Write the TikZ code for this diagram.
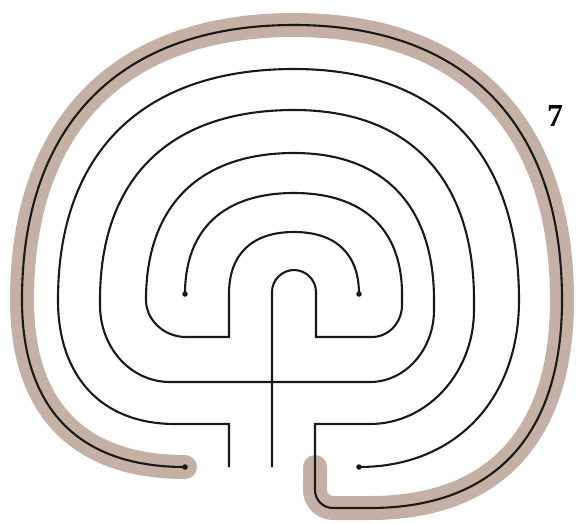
\documentclass[tikz,border=0pt]{standalone}
\usepackage{fontspec}
\newfontfamily\labelfont{Liberation Serif}
\definecolor{pathtan}{RGB}{196,176,164}
\begin{document}
\begin{tikzpicture}[x=1pt,y=-1pt,
  wall/.style={line width=2.1pt, black!90, line join=miter},
  trail/.style={line width=24pt, pathtan, line cap=round, line join=round},
  seeddot/.style={circle, fill=black!90, inner sep=0pt, minimum size=5.5pt}]
\useasboundingbox (0,0) rectangle (582,523);
% highlighted outer circuit
\draw[trail] (315,467) -- (315,490) .. controls (315,500) and (323,508) .. (333,508) -- (370,508)
  .. controls (495,508) and (562,435) .. (562,300)
  .. controls (562,124) and (465.5,25) .. (294,25)
  .. controls (120,25) and (22,124) .. (22,300)
  .. controls (22,409) and (79,467) .. (185,467);
% dots
\node[seeddot] (d1) at (185,294) {};
\node[seeddot] (d2) at (359,294) {};
\node[seeddot] (d3) at (185,467) {};
\node[seeddot] (d4) at (359,467) {};
\coordinate (crossfoot) at (272,467);
\coordinate (lfoot) at (229,467);
% line A
\draw[wall] (crossfoot) -- (272,292) .. controls (272,280) and (282,270) .. (294,270)
  .. controls (306,270) and (316,280) .. (316,292) -- (316,337) -- (372,337)
  .. controls (388.5,337) and (402,322.7) .. (402,305) -- (402,294)
  .. controls (402,229) and (363,193) .. (294,193)
  .. controls (224,193) and (185,229) .. (d1.center);
% line B
\draw[wall] (d2.center) .. controls (359,254) and (336,232) .. (294,232)
  .. controls (252,232) and (229,254) .. (229,294) -- (229,337) -- (186,337)
  .. controls (164,337) and (146,320) .. (146,300)
  .. controls (146,206) and (199,153) .. (294,153)
  .. controls (384,153) and (434,206) .. (434,300) -- (434,310)
  .. controls (434,350) and (405,382) .. (370,382) -- (170,382)
  .. controls (131,382) and (100,348) .. (100,305) -- (100,300)
  .. controls (100,178) and (170,110) .. (294,110)
  .. controls (409,110) and (474,178) .. (474,300) -- (474,310)
  .. controls (474,373) and (427,424) .. (370,424) -- (315,424) -- (315,490)
  .. controls (315,500) and (323,508) .. (333,508) -- (370,508)
  .. controls (495,508) and (562,435) .. (562,300)
  .. controls (562,124) and (465.5,25) .. (294,25)
  .. controls (120,25) and (22,124) .. (22,300)
  .. controls (22,409) and (79,467) .. (d3.center);
% line C
\draw[wall] (lfoot) -- (229,424) -- (175,424)
  .. controls (102,424) and (58,377) .. (58,300)
  .. controls (58,152) and (143,69) .. (294,69)
  .. controls (438,69) and (519,152) .. (519,300)
  .. controls (519,400) and (455,467) .. (d4.center);
% label
\node (num) at (555,116) {\labelfont\fontsize{32}{32}\selectfont\bfseries 7};
\end{tikzpicture}
\end{document}
